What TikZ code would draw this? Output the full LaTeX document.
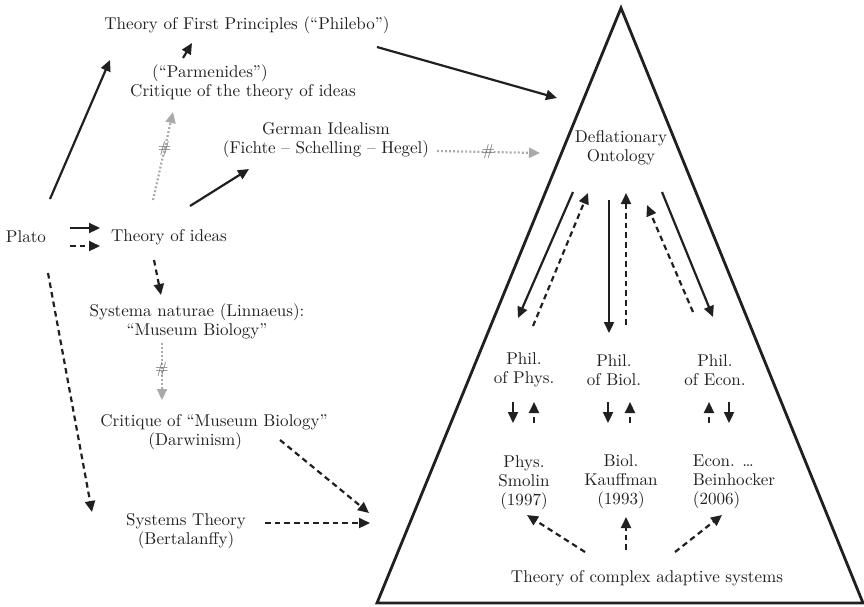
\documentclass[tikz,border=0pt]{standalone}
\usepackage{tikz}
\usetikzlibrary{arrows.meta,positioning,calc}
\definecolor{ink}{RGB}{35,31,32}
\definecolor{hashgray}{RGB}{168,170,173}
\definecolor{hashtxt}{RGB}{110,110,112}
\tikzset{
  lbl/.style={inner sep=1pt,align=center,text=ink,font=\fontsize{9.7}{10.8}\selectfont},
  sarr/.style={draw=ink,line width=1.25pt,-{Triangle[length=2.2mm,width=2mm]}},
  darr/.style={sarr,dash pattern=on 3.2pt off 2.3pt},
  garr/.style={draw=hashgray,line width=1.25pt,dash pattern=on 1.1pt off 1.2pt,
    -{Triangle[length=2.2mm,width=2mm]}},
  hsh/.style={text=hashtxt,inner sep=0pt,font=\small},
  hal/.style={draw=ink,line width=1.6pt},
}
\begin{document}
\begin{tikzpicture}[x=0.02cm,y=-0.02cm]
  \useasboundingbox (0,0) rectangle (864,606);
  \draw[hal] (621,8) -- (863,603) -- (377,603) -- cycle;
  \coordinate (tin1) at (369,513);
  \coordinate (tin2) at (370,523);

  \node[lbl] (plato) at (26,237) {Plato};
  \node[lbl] (ideas) at (169,237) {Theory of ideas};
  \node[lbl] (first) at (247,25) {Theory of First Principles (``Philebo'')};
  \node[lbl,align=left] (parm) at (243,82) {\hspace*{0.44cm}(``Parmenides'')\\Critique of the theory of ideas};
  \node[lbl] (german) at (326,140) {German Idealism\\(Fichte -- Schelling -- Hegel)};
  \node[lbl] (linn) at (197,321) {Systema naturae (Linnaeus):\\``Museum Biology''};
  \node[lbl,align=left] (darw) at (214,432) {Critique of ``Museum Biology''\\\hspace*{0.96cm}(Darwinism)};
  \node[lbl] (sys) at (186,531) {Systems Theory\\(Bertalanffy)};
  \node[lbl] (defl) at (621,148) {Deflationary\\Ontology};
  \node[lbl] (pphys) at (524,370) {Phil.\\of Phys.};
  \node[lbl] (pbiol) at (614,370) {Phil.\\of Biol.};
  \node[lbl] (pecon) at (715,370) {Phil.\\of Econ.};
  \node[lbl] (smolin) at (524,483) {Phys.\\Smolin\\(1997)};
  \node[lbl] (kauff) at (621,482) {Biol.\\Kauffman\\(1993)};
  \node[lbl,align=left] (beinh) at (734,482) {Econ. \dots\\Beinhocker\\(2006)};
  \node[lbl] (cas) at (647,578) {Theory of complex adaptive systems};

  \draw[sarr] ($(plato)+(24,-38)$) -- ($(first)+(-137,35)$);
  \draw[sarr] ($(plato)+(44,-9)$) -- ($(ideas)+(-69,-9)$);
  \draw[darr] ($(plato)+(44,9)$) -- ($(ideas)+(-69,9)$);
  \draw[darr] ($(plato)+(22,36)$) -- ($(sys)+(-94,-19)$);
  \draw[garr] ($(ideas)+(-16,-37)$) -- node[hsh,pos=.58] {\#} ($(parm)+(-70,30)$);
  \draw[sarr] ($(parm)+(-60,-24)$) -- ($(first)+(-55,18)$);
  \draw[sarr] ($(ideas)+(21,-31)$) -- ($(german)+(-77,29)$);
  \draw[darr] ($(ideas)+(-15,23)$) -- ($(linn)+(-36,-26)$);
  \draw[sarr] ($(first)+(130,22)$) -- ($(defl)+(-64,-50)$);
  \draw[garr] ($(german)+(111,11)$) -- node[hsh] {\#} ($(defl)+(-81,5)$);
  \draw[garr] ($(linn)+(-35,22)$) -- node[hsh,pos=.47] {\#} ($(darw)+(-52,-32)$);
  \draw[darr] ($(darw)+(66,8)$) -- (tin1);
  \draw[darr] ($(sys)+(79,-8)$) -- (tin2);

  \draw[sarr] ($(defl)+(-48,44)$) -- ($(pphys)+(-6,-52)$);
  \draw[darr] ($(pphys)+(9,-44)$) -- ($(defl)+(-33,45)$);
  \draw[sarr] ($(defl)+(-12,52)$) -- ($(pbiol)+(-5,-37)$);
  \draw[darr] ($(pbiol)+(12,-45)$) -- ($(defl)+(5,45)$);
  \draw[darr] ($(pecon)+(-22,-58)$) -- ($(defl)+(26,57)$);
  \draw[sarr] ($(defl)+(41,44)$) -- ($(pecon)+(-2,-53)$);

  \draw[sarr] ($(pphys)+(-11,32)$) -- ($(smolin)+(-11,-60)$);
  \draw[darr] ($(smolin)+(10,-60)$) -- ($(pphys)+(10,32)$);
  \draw[sarr] ($(pbiol)+(-6,32)$) -- ($(kauff)+(-13,-59)$);
  \draw[darr] ($(kauff)+(9,-59)$) -- ($(pbiol)+(16,32)$);
  \draw[darr] ($(beinh)+(-25,-59)$) -- ($(pecon)+(-6,32)$);
  \draw[sarr] ($(pecon)+(14,32)$) -- ($(beinh)+(-5,-59)$);

  \draw[darr] ($(cas)+(-62,-26)$) -- ($(smolin)+(3,32)$);
  \draw[darr] ($(cas)+(-21,-28)$) -- ($(kauff)+(5,35)$);
  \draw[darr] ($(cas)+(28,-26)$) -- ($(beinh)+(-12,33)$);
\end{tikzpicture}
\end{document}
